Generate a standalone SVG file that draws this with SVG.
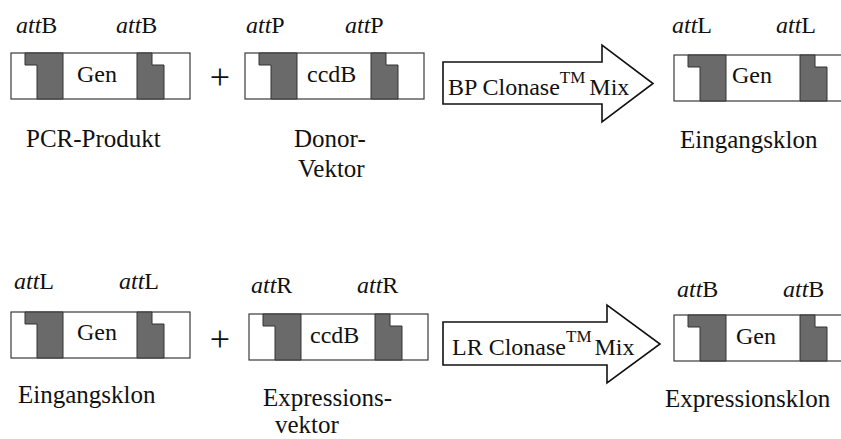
<svg xmlns="http://www.w3.org/2000/svg" xmlns:xlink="http://www.w3.org/1999/xlink" width="841" height="439" viewBox="0 0 841 439">
  <style>
    text { font-family: "Liberation Serif", "Times New Roman", serif; fill: #111; }
    .lbl { font-size: 25px; }
    .att { font-size: 24px; }
    .att .i { font-style: italic; }
    .in { font-size: 24px; }
    .plus { font-size: 36px; text-anchor: middle; }
    .tm { font-size: 17px; }
    .frame { fill: #fff; stroke: #3a3a3a; stroke-width: 1.2; }
    .site { fill: #6a6a6a; stroke: #333; stroke-width: 1; }
    .arrow { fill: #fff; stroke: #111; stroke-width: 1.6; stroke-linejoin: miter; }
  </style>
  <defs>
    <!-- linear DNA fragment: white frame with two stepped recombination sites -->
    <g id="construct">
      <rect class="frame" x="0" y="0" width="179" height="46"/>
      <polygon class="site" points="14,0 52,0 52,46 26,46 26,12 14,12"/>
      <polygon class="site" points="126,0 141,0 141,12 153,12 153,46 126,46"/>
    </g>
  </defs>

  <!-- ===== BP reaction ===== -->
  <g id="pcr-produkt">
    <text class="att" x="16" y="33"><tspan class="i">att</tspan>B</text>
    <text class="att" x="116" y="33"><tspan class="i">att</tspan>B</text>
    <use xlink:href="#construct" x="11" y="53"/>
    <text class="in" x="77" y="82">Gen</text>
    <text class="lbl" x="26" y="147">PCR-Produkt</text>
  </g>

  <g id="plus-1">
    <text class="plus" x="220" y="89">+</text>
  </g>

  <g id="donor-vektor">
    <text class="att" x="246" y="33"><tspan class="i">att</tspan>P</text>
    <text class="att" x="345" y="33"><tspan class="i">att</tspan>P</text>
    <use xlink:href="#construct" x="245" y="53"/>
    <text class="in" x="307" y="82">ccdB</text>
    <text class="lbl" x="294" y="147">Donor-</text>
    <text class="lbl" x="298" y="177">Vektor</text>
  </g>

  <g id="eingangsklon-1">
    <text class="att" x="672" y="33"><tspan class="i">att</tspan>L</text>
    <text class="att" x="776" y="33"><tspan class="i">att</tspan>L</text>
    <use xlink:href="#construct" x="674" y="55"/>
    <text class="in" x="732" y="83">Gen</text>
    <text class="lbl" x="680" y="148">Eingangsklon</text>
  </g>

  <!-- ===== LR reaction ===== -->
  <g id="eingangsklon-2">
    <text class="att" x="14" y="289"><tspan class="i">att</tspan>L</text>
    <text class="att" x="119" y="289"><tspan class="i">att</tspan>L</text>
    <use xlink:href="#construct" x="11" y="312"/>
    <text class="in" x="77" y="340">Gen</text>
    <text class="lbl" x="18" y="403">Eingangsklon</text>
  </g>

  <g id="plus-2">
    <text class="plus" x="220" y="351">+</text>
  </g>

  <g id="expressionsvektor">
    <text class="att" x="251" y="293"><tspan class="i">att</tspan>R</text>
    <text class="att" x="357" y="293"><tspan class="i">att</tspan>R</text>
    <use xlink:href="#construct" x="249" y="314"/>
    <text class="in" x="310" y="343">ccdB</text>
    <text class="lbl" x="263" y="406">Expressions-</text>
    <text class="lbl" x="275" y="433">vektor</text>
  </g>

  <g id="expressionsklon">
    <text class="att" x="677" y="297"><tspan class="i">att</tspan>B</text>
    <text class="att" x="783" y="297"><tspan class="i">att</tspan>B</text>
    <use xlink:href="#construct" x="674" y="315"/>
    <text class="in" x="736" y="344">Gen</text>
    <text class="lbl" x="665" y="407">Expressionsklon</text>
  </g>

  <!-- ===== reaction arrows ===== -->
  <g id="connectors">
    <g id="bp-clonase">
      <polygon class="arrow" points="443,62 602,62 602,45 653,83.5 602,122 602,104 443,104"/>
      <text class="in" x="448" y="95">BP Clonase<tspan class="tm" dy="-12">TM</tspan><tspan dy="12" dx="4">Mix</tspan></text>
    </g>
    <g id="lr-clonase">
      <polygon class="arrow" points="443,322 607,322 607,305 660,344 607,383 607,365 443,365"/>
      <text class="in" x="452" y="355">LR Clonase<tspan class="tm" dy="-13">TM</tspan><tspan dy="13" dx="3">Mix</tspan></text>
    </g>
  </g>
</svg>
